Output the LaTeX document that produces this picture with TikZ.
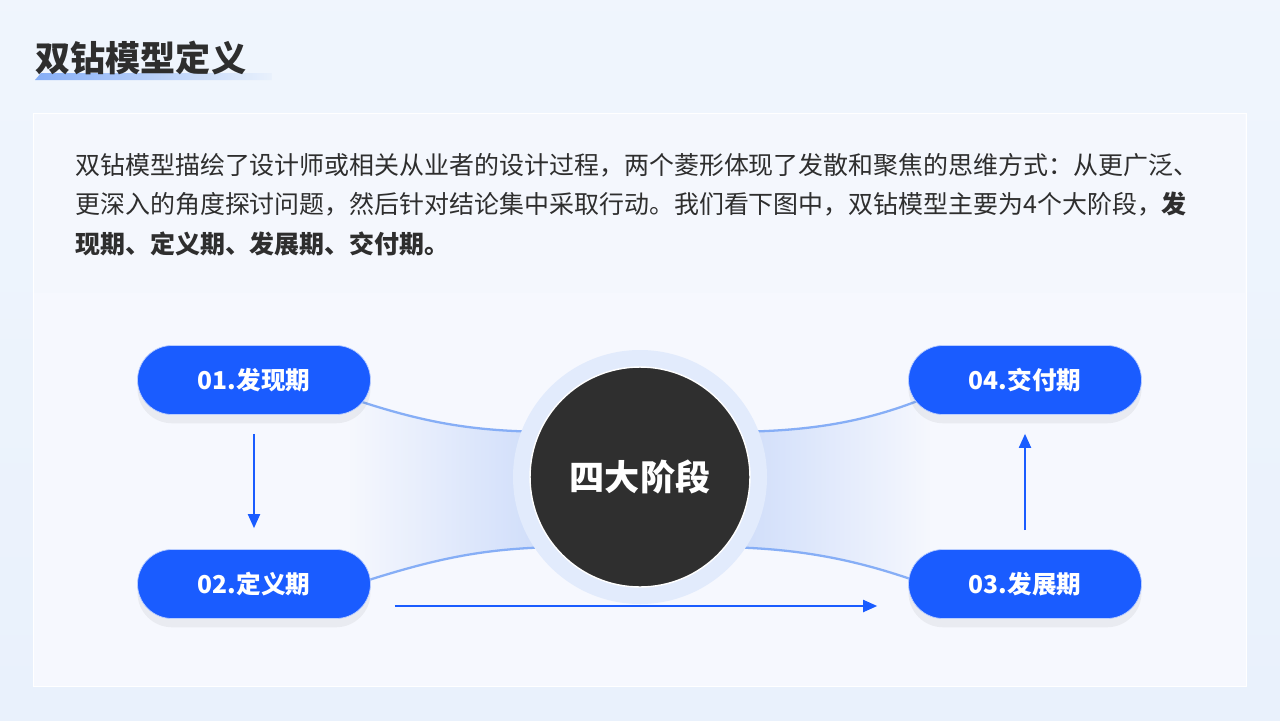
\documentclass[tikz,border=0pt]{standalone}
\usepackage{fontspec}
\setmainfont{Noto Sans CJK SC}
\usetikzlibrary{arrows.meta,shadows,fadings}
\definecolor{bgblue}{HTML}{E9F1FC}
\definecolor{cardtop}{HTML}{F4F7FD}
\definecolor{cardbot}{HTML}{F6F8FE}
\definecolor{pillblue}{HTML}{1A5CFF}
\definecolor{hubdark}{HTML}{2F2F2F}
\definecolor{txtgray}{HTML}{2E2E2E}
\definecolor{curveblue}{HTML}{86AEF6}
\definecolor{halo}{HTML}{E2EBFC}
\definecolor{funnel}{HTML}{CCDBFA}

\begin{document}
\begin{tikzpicture}[x=0.02cm, y=-0.02cm,
    stage/.style={rectangle, rounded corners=0.69cm, fill=pillblue, draw=white!70!pillblue,
      minimum width=4.66cm, minimum height=1.38cm, text=white,
      font=\fontsize{14}{16}\selectfont\bfseries,
      drop shadow={shadow xshift=0pt, shadow yshift=-5pt, opacity=0.05, fill=black}},
    flow/.style={draw=pillblue, line width=1.1pt, -{Triangle[length=0.28cm, width=0.24cm]}},
    edge/.style={draw=curveblue, line width=1.3pt}
    ]
    \useasboundingbox (0,0) rectangle (1280,720);
    \shade[top color=bgblue!70!white, bottom color=bgblue] (0,0) rectangle (1280,720);
    \fill[cardbot, draw=white] (33,113) rectangle (1246,686);
    \fill[cardtop] (34,114) rectangle (1245,293);
    \shade[left color=curveblue, right color=bgblue] (35,80) -- (41,73) -- (272,73) -- (272,80) -- cycle;
    \node[anchor=west, inner sep=0pt, text=txtgray, font=\fontsize{20}{24}\selectfont\bfseries] (title) at (35,58) {双钻模型定义};
    \node[anchor=north west, inner sep=0pt, align=left, text=txtgray,
      font=\fontsize{14.2}{22.4}\selectfont] (intro) at (75,153)
      {双钻模型描绘了设计师或相关从业者的设计过程，两个菱形体现了发散和聚焦的思维方式：从更广泛、\\
       更深入的角度探讨问题，然后针对结论集中采取行动。我们看下图中，双钻模型主要为4个大阶段，\textbf{发}\\
       \textbf{现期、定义期、发展期、交付期。}};
    \fill[funnel, path fading=west] (350,398) .. controls (430,425) and (480,432) .. (560,432)
      -- (560,547) .. controls (480,548) and (430,560) .. (350,586) -- cycle;
    \fill[funnel, path fading=east] (720,432) .. controls (800,432) and (860,425) .. (930,396)
      -- (930,586) .. controls (860,560) and (800,548) .. (720,547) -- cycle;
    \draw[edge] (350,398) .. controls (430,425) and (480,432) .. (560,432);
    \draw[edge] (350,586) .. controls (430,560) and (480,548) .. (560,547);
    \draw[edge] (720,432) .. controls (800,432) and (860,425) .. (930,396);
    \draw[edge] (720,547) .. controls (800,548) and (860,560) .. (930,586);
    \fill[halo] (640,477) circle (127);
    \node[circle, fill=hubdark, draw=white, line width=0.8pt, minimum size=4.4cm, text=white,
      font=\fontsize{20}{24}\selectfont\bfseries] (hub) at (640,477) {四大阶段};
    \node[stage] (find) at (254,380) {01.发现期};
    \node[stage] (define) at (254,584) {02.定义期};
    \node[stage] (develop) at (1025,584) {03.发展期};
    \node[stage] (deliver) at (1025,380) {04.交付期};
    \draw[flow, shorten <=0.38cm, shorten >=0.42cm] (find) -- (define);
    \draw[flow, shorten <=0.48cm, shorten >=0.62cm] ([yshift=-0.44cm]define.east) -- ([yshift=-0.44cm]develop.west);
    \draw[flow, shorten <=0.38cm, shorten >=0.38cm] (develop) -- (deliver);
  \end{tikzpicture}
\end{document}
